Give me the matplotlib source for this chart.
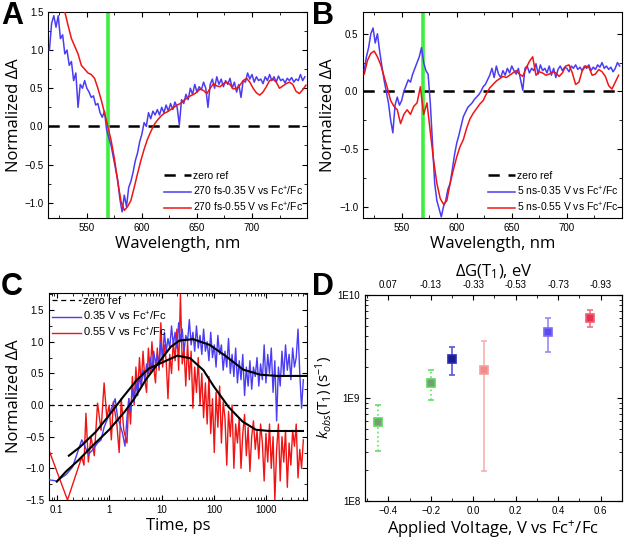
import numpy as np
import matplotlib
matplotlib.use("Agg")
import matplotlib.pyplot as plt
from matplotlib.ticker import MultipleLocator, LogLocator, FixedLocator, NullFormatter

plt.rcParams['font.family'] = ['Liberation Sans', 'DejaVu Sans']
plt.rcParams['mathtext.fontset'] = 'custom'
plt.rcParams['mathtext.rm'] = 'Open Sans'
plt.rcParams['mathtext.it'] = 'Open Sans:italic'

BLUE = '#4a3cf2'
RED = '#f01414'
GREEN_LINE = '#3ef03e'

# ---- panel A: 270 fs spectra (2 nm grid from 516, 3 nm grid from 530)
a_blue = [1.0, 1.35, 1.45, 1.3, 1.45, 1.15, 1.2, 0.95, 1.0, 0.8,
          0.85, 0.6, 0.7, 0.25, 0.55, 0.5, 0.6, 0.5, 0.45, 0.38,
          0.4, 0.28, 0.3, 0.18, 0.12, 0.2, -0.05, -0.15, -0.25, -0.4,
          -0.55, -0.7, -0.95, -1.12, -0.9, -1.05, -0.8, -0.72, -0.6, -0.45,
          -0.35, -0.2, -0.1, 0.05, 0.0, 0.18, 0.1, 0.2, 0.15, 0.22,
          0.15, 0.25, 0.18, 0.28, 0.2, 0.3, 0.22, 0.32, 0.25, 0.02,
          0.35, 0.3, 0.42, 0.35, 0.5, 0.42, 0.55, 0.45, 0.52, 0.48,
          0.58, 0.5, 0.25, 0.55, 0.62, 0.5, 0.65, 0.55, 0.62, 0.52,
          0.6, 0.55, 0.63, 0.5, 0.58, 0.45, 0.55, 0.38, 0.6, 0.58,
          0.7, 0.62, 0.68, 0.58, 0.65, 0.6, 0.62, 0.56, 0.65, 0.6,
          0.68, 0.6, 0.65, 0.58, 0.66, 0.6, 0.62, 0.57, 0.63, 0.6,
          0.64, 0.58, 0.62, 0.6, 0.68, 0.6, 0.65]
a_red = [1.5, 1.32, 1.15, 1.05, 0.95, 0.8, 0.75, 0.7, 0.68, 0.63,
         0.5, 0.35, 0.18, 0.0, -0.18, -0.42, -0.72, -0.98, -1.1, -1.05,
         -0.97, -0.8, -0.62, -0.45, -0.3, -0.17, -0.07, 0.02, 0.08, 0.13,
         0.17, 0.19, 0.22, 0.25, 0.28, 0.3, 0.34, 0.37, 0.4, 0.42,
         0.45, 0.49, 0.47, 0.43, 0.5, 0.56, 0.53, 0.52, 0.56, 0.58,
         0.55, 0.49, 0.5, 0.54, 0.6, 0.63, 0.58, 0.5, 0.44, 0.41,
         0.45, 0.52, 0.6, 0.62, 0.58, 0.5, 0.53, 0.56, 0.58, 0.55,
         0.46, 0.43, 0.48, 0.54]

# ---- panel B: 5 ns spectra (2 nm grid from 516, 3 nm grid from 516)
b_blue = [0.18, 0.3, 0.38, 0.5, 0.55, 0.42, 0.5, 0.35, 0.22, 0.1,
          0.0, -0.1, -0.25, -0.36, -0.12, -0.05, -0.12, -0.08, 0.0, 0.05,
          0.1, 0.08, 0.15, 0.2, 0.25, 0.3, 0.38, 0.25, 0.18, 0.15,
          -0.1, -0.45, -0.8, -0.95, -1.02, -1.09, -1.0, -0.95, -0.85, -0.8,
          -0.68, -0.55, -0.45, -0.38, -0.3, -0.22, -0.18, -0.14, -0.12, -0.1,
          -0.07, -0.05, -0.03, 0.0, 0.04, 0.06, 0.1, 0.14, 0.2, 0.12,
          0.22, 0.15, 0.12, 0.18, 0.14, 0.2, 0.16, 0.22, 0.18, 0.15,
          0.2, 0.1, 0.01, 0.2, 0.22, 0.16, 0.2, 0.18, 0.24, 0.15,
          0.23, 0.18, 0.2, 0.16, 0.22, 0.14, 0.2, 0.12, 0.19, 0.22,
          0.18, 0.21, 0.2, 0.17, 0.22, 0.2, 0.23, 0.19, 0.21, 0.18,
          0.22, 0.2, 0.23, 0.18, 0.21, 0.19, 0.23, 0.21, 0.25, 0.2,
          0.22, 0.19, 0.21, 0.17, 0.2, 0.25, 0.22]
b_red = [0.15, 0.27, 0.33, 0.35, 0.3, 0.23, 0.13, 0.03, -0.08, -0.13,
         -0.16, -0.28, -0.2, -0.16, -0.2, -0.13, -0.1, 0.04, -0.2, -0.1,
         -0.35, -0.6, -0.8, -0.93, -0.98, -0.95, -0.8, -0.68, -0.57, -0.48,
         -0.42, -0.32, -0.24, -0.19, -0.15, -0.11, -0.08, -0.02, 0.03, 0.06,
         0.09, 0.11, 0.13, 0.12, 0.14, 0.16, 0.18, 0.15, 0.13, 0.2,
         0.26, 0.3, 0.14, 0.17, 0.16, 0.14, 0.15, 0.17, 0.16, 0.13,
         0.16, 0.22, 0.23, 0.16, 0.06, 0.08, 0.18, 0.22, 0.21, 0.14,
         0.15, 0.19, 0.17, 0.13, 0.05, 0.02, 0.08, 0.14]
pump_wl = 569

# ---- panel C: kinetics
c_blue_t0 = [0.07, 0.1, 0.15, 0.2, 0.3, 0.33, 0.4, 0.47, 0.6, 0.7, 0.8, 1.0, 1.3, 1.45, 1.6, 1.8, 2.0]
c_blue_y0 = [-1.18, -1.2, -1.1, -0.98, -0.55, -0.62, -0.78, -0.72, -0.6, -0.55, -0.35, -0.15, 0.1, -0.2, -0.3, -0.45, -0.65]
c_red_t0 = [0.07, 0.16, 0.3, 0.33, 0.36, 0.4, 0.45, 0.52, 0.6, 0.7, 0.8, 0.9, 1.0, 1.1, 1.2, 1.4, 1.55, 1.7, 1.9]
c_red_y0 = [-0.7, -1.5, -0.82, -0.95, -0.13, -0.9, -0.5, -0.8, 0.03, -0.4, 0.35, -0.2, 0.0, -0.55, 0.05, -0.3, -0.75, 0.1, -0.4]
# dense part: log10(t) from 0.34 in steps of 0.034
c_blue_y = [-0.2, 0.1, -0.1, 0.25, 0.05, 0.35, 0.15, 0.45, 0.3, 0.55,
            0.4, 0.65, 0.5, 0.75, 0.55, 0.85, 0.65, 0.8, 0.6, 1.0,
            0.75, 1.15, 0.85, 1.05, 0.9, 1.25, 0.95, 1.15, 0.9, 1.3,
            1.0, 1.2, 0.85, 1.1, 1.0, 1.35, 0.95, 1.15, 0.85, 1.25,
            0.9, 1.1, 0.8, 1.2, 0.85, 1.0, 0.7, 1.15, 0.75, 0.95,
            0.6, 1.1, 0.8, 0.95, 0.55, 0.85, 0.6, 1.05, 0.5, 0.8,
            0.45, 0.9, 0.35, 0.7, 0.4, 0.8, 0.15, 0.6, 0.3, 0.7,
            0.25, 0.6, 0.45, 0.75, 0.3, 0.65, 0.4, 0.95, 0.35, 0.8,
            0.5, 0.9, 0.2, 0.7, -0.25, 0.6, 0.3, 0.85, 0.45, 0.95,
            0.55, 0.8, 0.4, 0.9, 0.6, 0.75, 1.2, 0.5, -0.05, 0.4]
c_red_y = [-0.6, 0.1, -0.3, 0.45, 0.0, 0.6, 0.2, 0.75, 0.3, 0.85,
           0.4, 0.2, 0.9, 0.5, 1.0, 0.6, 0.35, 0.9, 0.55, 1.3,
           0.6, 0.95, 0.7, 0.1, 0.8, 0.5, 1.0, 0.7, 1.2, 0.55,
           1.75, 0.65, 0.9, 0.3, 1.0, 0.4, 0.85, -0.05, 0.6, 0.2,
           0.75, 0.0, 0.5, -0.2, 0.35, -0.3, 0.45, -0.45, 0.1, -0.75,
           0.2, -0.35, 0.3, -0.6, 0.05, -0.2, -0.95, -0.1, -0.5, 0.0,
           -1.0, -0.3, -0.6, -0.2, -1.0, -0.45, -0.15, -0.8, -0.35, -1.05,
           -0.5, -0.25, -0.7, -0.4, -0.85, -0.3, -0.6, -1.2, -0.45, -0.9,
           -0.3, -1.0, -0.5, -1.5, -0.7, -0.3, -1.2, -0.5, -0.9, -0.4,
           -1.3, -0.6, -0.95, -0.4, -0.65, -0.3, -1.15, -0.7, -1.0, -0.55]
fit_blue_t = [0.1, 0.15, 0.26, 0.5, 1, 2, 3, 5, 9, 15, 22, 40, 83, 170, 360, 760, 1600, 5900]
fit_blue_y = [-1.21, -1.05, -0.87, -0.63, -0.39, -0.1, 0.1, 0.4, 0.68, 0.92, 1.02, 1.04, 0.95, 0.77, 0.56, 0.48, 0.46, 0.46]
fit_red_t = [0.17, 0.28, 0.56, 1.0, 1.85, 3.4, 5.8, 10.8, 20, 35, 63, 100, 190, 350, 630, 1130, 5000]
fit_red_y = [-0.8, -0.66, -0.42, -0.16, 0.13, 0.4, 0.58, 0.68, 0.78, 0.74, 0.55, 0.29, -0.03, -0.26, -0.39, -0.41, -0.41]

# ---- panel D: rate constants
d_volt = [-0.45, -0.2, -0.1, 0.05, 0.35, 0.55]
d_k = [5.85e8, 1.41e9, 2.39e9, 1.87e9, 4.34e9, 5.98e9]
d_hi = [8.6e8, 1.88e9, 3.1e9, 3.55e9, 5.9e9, 7.1e9]
d_lo = [3.05e8, 9.6e8, 1.66e9, 1.95e8, 2.8e9, 4.9e9]
d_face = ['#7a9a7a', '#7a9a7a', '#1a1a90', '#f28a8a', '#5a4cf2', '#e83050']
d_edge = ['#55dd55', '#55dd55', '#2a2ab0', '#f5a0a0', '#7a6cf5', '#f06070']
d_ecol = ['#66dd66', '#66dd66', '#5555e0', '#f8b0b0', '#9a8af0', '#f07080']
d_els = [':', ':', '-', '-', '-', '-']
dg_labels = ['0.07', '-0.13', '-0.33', '-0.53', '-0.73', '-0.93']
dg_volt = [-0.4, -0.2, 0.0, 0.2, 0.4, 0.6]

fig = plt.figure(figsize=(6.25, 5.41), dpi=100)
axA = fig.add_axes([0.0773, 0.597, 0.414, 0.381])
axB = fig.add_axes([0.581, 0.597, 0.414, 0.381])
axC = fig.add_axes([0.0784, 0.0758, 0.413, 0.3826])
axD = fig.add_axes([0.584, 0.074, 0.411, 0.381])

label_font = dict(family='Open Sans', fontsize=12)
fc = 'Fc$^{+}$/Fc'


def style(ax):
    ax.tick_params(which='both', direction='in', top=True, right=True, labelsize=7)
    ax.tick_params(which='major', length=3.5, width=0.8)
    ax.tick_params(which='minor', length=2, width=0.6)
    for s in ax.spines.values():
        s.set_linewidth(0.8)


for ax, blue, red, red_start, tag in [(axA, a_blue, a_red, 530, '270 fs'),
                                        (axB, b_blue, b_red, 516, '5 ns')]:
    wl_b = 516 + 2 * np.arange(len(blue))
    wl_r = red_start + 3 * np.arange(len(red))
    ax.axhline(0, color='black', lw=1.8, ls=(0, (4.5, 3.5)), label='zero ref', zorder=1)
    ax.axvline(pump_wl, color=GREEN_LINE, lw=2.6, zorder=2)
    ax.plot(wl_b, blue, color=BLUE, lw=1.1, label=tag + '-0.35 V vs ' + fc, zorder=3)
    ax.plot(wl_r, red, color=RED, lw=1.1, label=tag + '-0.55 V vs ' + fc, zorder=4)
    ax.set_xlim(515, 750)
    ax.xaxis.set_major_locator(FixedLocator([550, 600, 650, 700]))
    ax.xaxis.set_minor_locator(MultipleLocator(25))
    ax.yaxis.set_major_locator(MultipleLocator(0.5))
    ax.yaxis.set_minor_locator(MultipleLocator(0.25))
    ax.set_xlabel('Wavelength, nm', labelpad=2, **label_font)
    ax.set_ylabel('Normalized ΔA', labelpad=2, **label_font)
    style(ax)
    ax.legend(loc='lower right', frameon=False, fontsize=7.5, handlelength=2.6,
              handletextpad=0.2, labelspacing=0.35, borderaxespad=0.15, borderpad=0.2)

axA.set_ylim(-1.2, 1.5)
axB.set_ylim(-1.1, 0.69)

# panel C
t_dense = 10 ** (0.34 + 0.034 * np.arange(len(c_blue_y)))
axC.axhline(0, color='black', lw=0.9, ls=(0, (4, 3)), label='zero ref', zorder=1)
axC.plot(c_blue_t0 + list(t_dense), c_blue_y0 + c_blue_y, color=BLUE, lw=1.0,
         label='0.35 V vs ' + fc, zorder=3)
axC.plot(c_red_t0 + list(t_dense), c_red_y0 + c_red_y, color=RED, lw=1.0,
         label='0.55 V vs ' + fc, zorder=2)
axC.plot(fit_blue_t, fit_blue_y, color='black', lw=1.5, zorder=5)
axC.plot(fit_red_t, fit_red_y, color='black', lw=1.5, zorder=5)
axC.set_xscale('log')
axC.set_xlim(0.071, 6000)
axC.set_ylim(-1.5, 1.77)
axC.xaxis.set_major_locator(FixedLocator([0.1, 1, 10, 100, 1000]))
axC.set_xticklabels(['0.1', '1', '10', '100', '1000'])
axC.xaxis.set_minor_locator(LogLocator(base=10, subs=np.arange(2, 10)))
axC.xaxis.set_minor_formatter(NullFormatter())
axC.yaxis.set_major_locator(MultipleLocator(0.5))
axC.yaxis.set_minor_locator(MultipleLocator(0.25))
axC.set_xlabel('Time, ps', labelpad=2, **label_font)
axC.set_ylabel('Normalized ΔA', labelpad=2, **label_font)
style(axC)
axC.legend(loc='upper left', frameon=False, fontsize=8, handlelength=2.6,
           handletextpad=0.2, labelspacing=0.3, borderaxespad=0.1, borderpad=0.2)

# panel D
for x, k, hi, lo, f, e, ec, ls in zip(d_volt, d_k, d_hi, d_lo, d_face, d_edge, d_ecol, d_els):
    cont = axD.errorbar([x], [k], yerr=[[k - lo], [hi - k]], fmt='s', ms=6, mfc=f, mec=e,
                        mew=1.2, ecolor=ec, elinewidth=1.2, capsize=2.5, capthick=1.0, zorder=3)
    cont[2][0].set_linestyle(ls)
axD.set_yscale('log')
axD.set_ylim(1e8, 1e10)
axD.set_xlim(-0.51, 0.7)
axD.yaxis.set_major_locator(FixedLocator([1e8, 1e9, 1e10]))
axD.set_yticklabels(['1E8', '1E9', '1E10'])
axD.yaxis.set_minor_locator(LogLocator(base=10, subs=np.arange(2, 10)))
axD.yaxis.set_minor_formatter(NullFormatter())
axD.xaxis.set_major_locator(FixedLocator([-0.4, -0.2, 0.0, 0.2, 0.4, 0.6]))
axD.xaxis.set_minor_locator(MultipleLocator(0.1))
axD.set_xlabel('Applied Voltage, V vs Fc$^{+}$/Fc', labelpad=2, **label_font)
axD.set_ylabel('$k_{obs}$(T$_1$) (s$^{-1}$)', labelpad=2, family='Open Sans', fontsize=11)
style(axD)
axD.tick_params(top=False)
axT = axD.twiny()
axT.set_xlim(axD.get_xlim())
axT.set_xticks(dg_volt)
axT.set_xticklabels(dg_labels)
axT.xaxis.set_minor_locator(MultipleLocator(0.1))
axT.tick_params(which='both', direction='in', labelsize=7)
axT.tick_params(which='major', length=3.5, width=0.8)
axT.tick_params(which='minor', length=2, width=0.6)
axT.set_xlabel('ΔG(T$_1$), eV', labelpad=3, **label_font)

for txt, x, y in [('A', 0.002, 0.998), ('B', 0.5, 0.998), ('C', 0.002, 0.497), ('D', 0.5, 0.497)]:
    fig.text(x, y, txt, fontsize=22, fontweight='bold', family='Liberation Sans', va='top', ha='left')

fig.savefig('out.png', dpi=100)
